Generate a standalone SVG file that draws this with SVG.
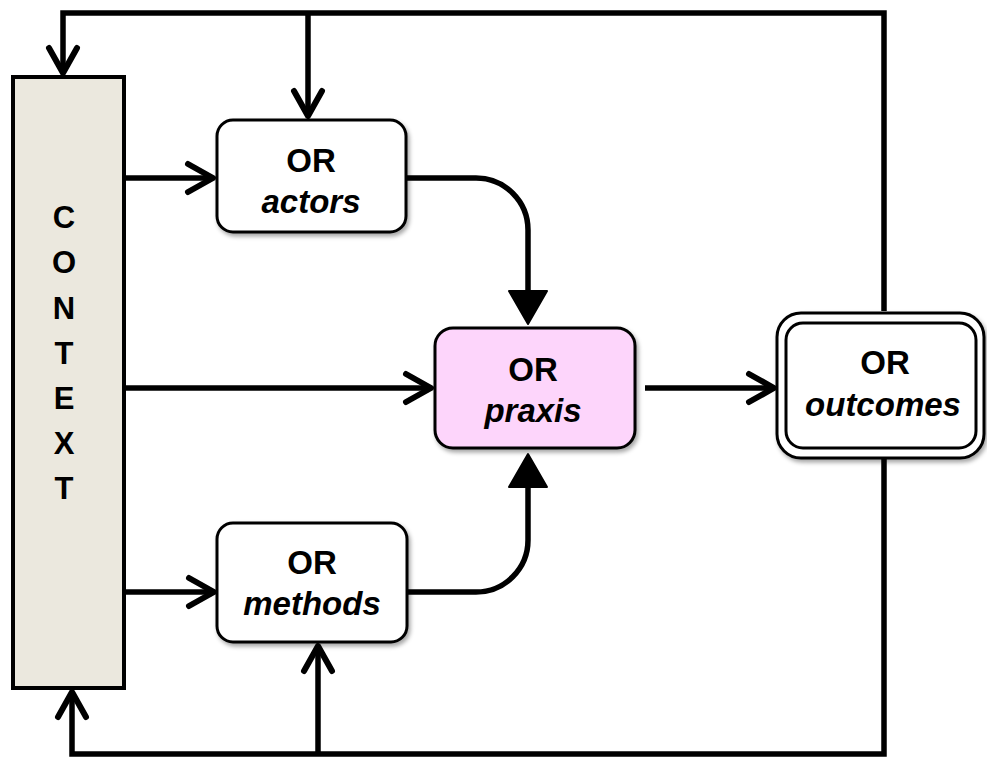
<svg xmlns="http://www.w3.org/2000/svg" width="987" height="760" viewBox="0 0 987 760">
<style>
.box{fill:#fff;stroke:#000;stroke-width:3}
.t{font-family:"Liberation Sans",Arial,sans-serif;font-weight:bold;font-size:33px;text-anchor:middle;fill:#000}
.i{font-style:italic}
.ctx{font-family:"Liberation Sans",Arial,sans-serif;font-weight:bold;font-size:31px;text-anchor:middle;fill:#000}
.c{fill:none;stroke:#000;stroke-width:5.5;stroke-linejoin:miter}
</style>
<defs>
<filter id="sh" x="-10%" y="-10%" width="125%" height="130%">
<feDropShadow dx="2" dy="3" stdDeviation="2" flood-color="#000" flood-opacity="0.35"/>
</filter>
<marker id="chev" markerUnits="userSpaceOnUse" markerWidth="40" markerHeight="40" viewBox="-30 -20 40 40" refX="0" refY="0" orient="auto" overflow="visible">
<path d="M-25,-14 L0,0 L-25,14" fill="none" stroke="#000" stroke-width="6" stroke-linecap="round" stroke-linejoin="round"/>
</marker>
<marker id="tri" markerUnits="userSpaceOnUse" markerWidth="40" markerHeight="44" viewBox="-2 -22 40 44" refX="0" refY="0" orient="auto" overflow="visible">
<path d="M0,-19 L33,0 L0,19 Z" fill="#000" stroke="#000" stroke-width="2" stroke-linejoin="round"/>
</marker>
</defs>
<rect width="987" height="760" fill="#fff"/>
<g id="connectors">
<path class="c" d="M884,311 V13 H63 V73" marker-end="url(#chev)"/>
<path class="c" d="M308,13 V116" marker-end="url(#chev)"/>
<path class="c" d="M884,459 V754 H72 V692" marker-end="url(#chev)"/>
<path class="c" d="M318,754 V646" marker-end="url(#chev)"/>
<path class="c" d="M124,178 H213" marker-end="url(#chev)"/>
<path class="c" d="M124,388 H431" marker-end="url(#chev)"/>
<path class="c" d="M124,592 H214" marker-end="url(#chev)"/>
<path class="c" d="M645,388 H774" marker-end="url(#chev)"/>
<path class="c" d="M406,178 H476 A52,52 0 0 1 528,230 V291" marker-end="url(#tri)"/>
<path class="c" d="M407,592 H476 A52,52 0 0 0 528,540 V487" marker-end="url(#tri)"/>
</g>
<g id="context">
<rect x="13" y="77" width="111" height="611" fill="#ebe8de" stroke="#000" stroke-width="4"/>
<text class="ctx" x="64" y="228">C</text>
<text class="ctx" x="64" y="273">O</text>
<text class="ctx" x="64" y="319">N</text>
<text class="ctx" x="64" y="364">T</text>
<text class="ctx" x="64" y="409">E</text>
<text class="ctx" x="64" y="454">X</text>
<text class="ctx" x="64" y="499">T</text>
</g>
<g id="actors">
<rect class="box" x="217" y="120" width="189" height="112" rx="16" filter="url(#sh)"/>
<text class="t" x="311" y="172">OR</text>
<text class="t i" x="311" y="213">actors</text>
</g>
<g id="methods">
<rect class="box" x="217" y="523" width="190" height="119" rx="16" filter="url(#sh)"/>
<text class="t" x="312" y="574">OR</text>
<text class="t i" x="312" y="615">methods</text>
</g>
<g id="praxis">
<rect class="box" x="435" y="328" width="200" height="120" rx="18" style="fill:#fdd5fb" filter="url(#sh)"/>
<text class="t" x="533" y="381">OR</text>
<text class="t i" x="533" y="422">praxis</text>
</g>
<g id="outcomes">
<rect class="box" x="777" y="313" width="207" height="145" rx="24" stroke-width="4" filter="url(#sh)"/>
<rect x="786" y="323" width="190" height="125" rx="17" fill="none" stroke="#000" stroke-width="3"/>
<text class="t" x="885" y="374">OR</text>
<text class="t i" x="883" y="416">outcomes</text>
</g>
</svg>
